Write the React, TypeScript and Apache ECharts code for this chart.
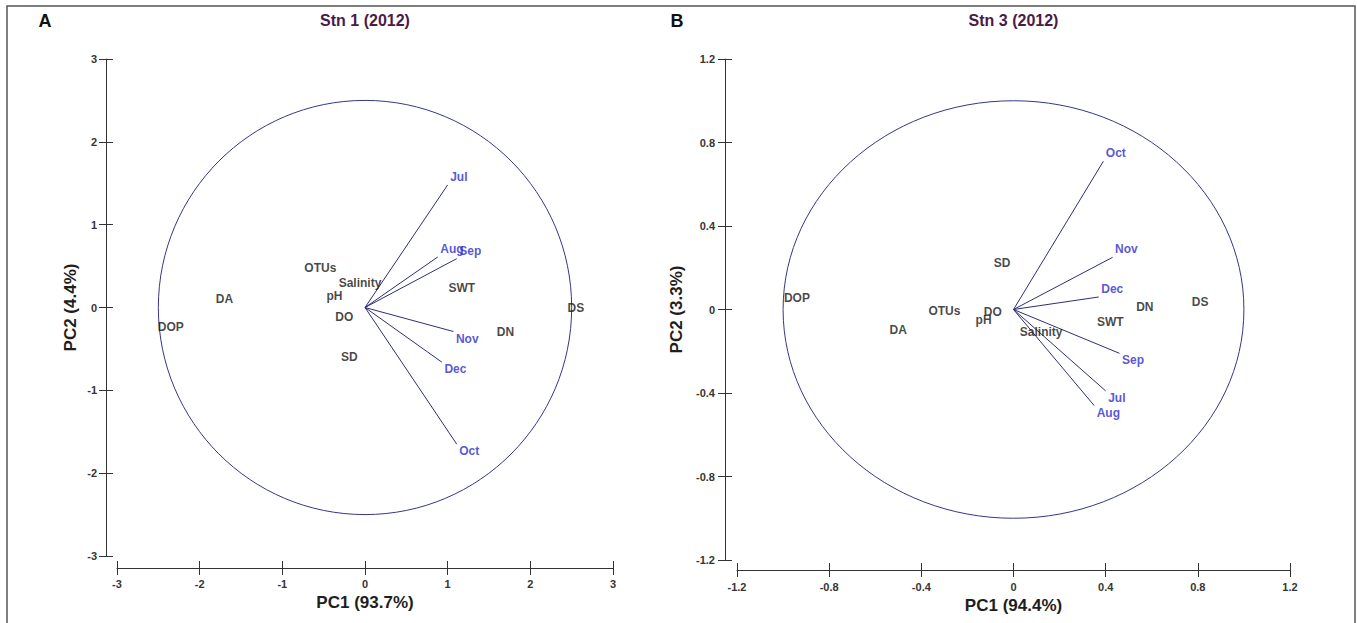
import React, { useEffect, useRef } from "react";
import * as echarts from "echarts";

// ---------- Panel A : Stn 1 (2012) ----------
const monthsA = ["Jul", "Aug", "Sep", "Nov", "Dec", "Oct"];
const monthXA = [1.0, 0.88, 1.11, 1.07, 0.93, 1.11];
const monthYA = [1.48, 0.61, 0.59, -0.29, -0.66, -1.65];
const varsA = ["OTUs", "Salinity", "pH", "DA", "DOP", "DO", "SD", "SWT", "DN", "DS"];
const varXA = [-0.54, -0.06, -0.37, -1.7, -2.35, -0.25, -0.19, 1.17, 1.7, 2.55];
const varYA = [0.48, 0.29, 0.14, 0.1, -0.24, -0.11, -0.6, 0.23, -0.29, 0.0];
const circleRA = 2.5;
const axisA = { min: -3, max: 3, interval: 1 };
const titleA = "Stn 1 (2012)";
const xNameA = "PC1 (93.7%)";
const yNameA = "PC2 (4.4%)";

// ---------- Panel B : Stn 3 (2012) ----------
const monthsB = ["Oct", "Nov", "Dec", "Sep", "Jul", "Aug"];
const monthXB = [0.39, 0.43, 0.37, 0.46, 0.4, 0.35];
const monthYB = [0.71, 0.25, 0.06, -0.21, -0.39, -0.46];
const varsB = ["SD", "DOP", "OTUs", "DO", "pH", "DA", "Salinity", "SWT", "DN", "DS"];
const varXB = [-0.05, -0.94, -0.3, -0.09, -0.13, -0.5, 0.12, 0.42, 0.57, 0.81];
const varYB = [0.225, 0.053, -0.005, -0.014, -0.048, -0.1, -0.11, -0.062, 0.014, 0.038];
const circleRB = 1;
const axisB = { min: -1.2, max: 1.2, interval: 0.4 };
const titleB = "Stn 3 (2012)";
const xNameB = "PC1 (94.4%)";
const yNameB = "PC2 (3.3%)";

const FONT = "'Liberation Sans', Arial, sans-serif";
const VEC_COLOR = "#2e2e78";
const MONTH_COLOR = "#2b2bcc";
const VAR_COLOR = "#161616";

function fmtTick(v: number, step: number) {
  if (Math.abs(v) < 1e-9) return "0";
  return step < 1 ? String(Math.round(v * 10) / 10) : String(Math.round(v));
}

function makeAxes(
  dim: "x" | "y",
  gridIndex: number,
  rng: { min: number; max: number; interval: number },
  name: string,
  offset: number,
  labelMargin: number,
  nameGap: number
) {
  const main: any = {
    type: "value",
    gridIndex,
    min: rng.min,
    max: rng.max,
    interval: rng.interval,
    position: dim === "x" ? "bottom" : "left",
    offset,
    name,
    nameLocation: "middle",
    nameGap,
    nameRotate: dim === "y" ? 90 : 0,
    nameTextStyle: { fontFamily: FONT, fontSize: 17, fontWeight: "bold", color: "#1e1e1e" },
    axisLine: { show: true, onZero: false, lineStyle: { color: "#333", width: 1 } },
    axisTick: { show: true, inside: false, length: 7, lineStyle: { color: "#333", width: 1 } },
    axisLabel: {
      show: true,
      margin: labelMargin,
      fontFamily: FONT,
      fontSize: 11,
      fontWeight: "bold",
      color: "#353535",
      formatter: (v: number) => fmtTick(v, rng.interval),
    },
    splitLine: { show: false },
  };
  const dup: any = {
    type: "value",
    gridIndex,
    min: rng.min,
    max: rng.max,
    interval: rng.interval,
    position: dim === "x" ? "bottom" : "left",
    offset,
    axisLine: { show: false, onZero: false },
    axisTick: { show: true, inside: true, length: 7, lineStyle: { color: "#333", width: 1 } },
    axisLabel: { show: false },
    splitLine: { show: false },
  };
  return [main, dup];
}

function panelSeries(
  axisIdx: number,
  months: string[],
  mx: number[],
  my: number[],
  vars: string[],
  vx: number[],
  vy: number[]
) {
  return [
    {
      type: "lines",
      coordinateSystem: "cartesian2d",
      xAxisIndex: axisIdx,
      yAxisIndex: axisIdx,
      silent: true,
      lineStyle: { color: VEC_COLOR, width: 1, opacity: 1 },
      data: months.map((m, i) => ({ name: m, coords: [[0, 0], [mx[i], my[i]]] })),
    },
    {
      type: "scatter",
      xAxisIndex: axisIdx,
      yAxisIndex: axisIdx,
      symbolSize: 1,
      itemStyle: { color: "rgba(0,0,0,0)" },
      data: months.map((m, i) => ({
        name: m,
        value: [mx[i], my[i]],
        label: {
          show: true,
          position: "right",
          distance: 2,
          offset: [0, my[i] > 0 ? -8 : 7],
          formatter: "{b}",
          fontFamily: FONT,
          fontSize: 12,
          fontWeight: "bold",
          color: MONTH_COLOR,
        },
      })),
    },
    {
      type: "scatter",
      xAxisIndex: axisIdx,
      yAxisIndex: axisIdx,
      symbolSize: 1,
      itemStyle: { color: "rgba(0,0,0,0)" },
      label: {
        show: true,
        position: "inside",
        formatter: "{b}",
        fontFamily: FONT,
        fontSize: 12,
        fontWeight: "bold",
        color: VAR_COLOR,
      },
      data: vars.map((v, i) => ({ name: v, value: [vx[i], vy[i]] })),
    },
  ];
}

export default function App() {
  const ref = useRef<HTMLDivElement>(null);

  useEffect(() => {
    if (!ref.current) return;
    const chart = echarts.init(ref.current, undefined, { renderer: "svg" });

    const xA = makeAxes("x", 0, axisA, xNameA, 12, 10, 25);
    const yA = makeAxes("y", 0, axisA, yNameA, 11, 9, 27);
    const xB = makeAxes("x", 1, axisB, xNameB, 10, 11, 26);
    const yB = makeAxes("y", 1, axisB, yNameB, 12, 10, 40);

    chart.setOption({
      animation: false,
      backgroundColor: "#ffffff",
      grid: [
        { left: 117, top: 59, width: 496, height: 497 },
        { left: 737, top: 59, width: 553, height: 501 },
      ],
      xAxis: [...xA, ...xB],
      yAxis: [...yA, ...yB],
      series: [
        ...panelSeries(0, monthsA, monthXA, monthYA, varsA, varXA, varYA),
        ...panelSeries(2, monthsB, monthXB, monthYB, varsB, varXB, varYB),
      ],
    });

    const cA = chart.convertToPixel({ xAxisIndex: 0, yAxisIndex: 0 }, [0, 0]) as number[];
    const eA = chart.convertToPixel({ xAxisIndex: 0, yAxisIndex: 0 }, [circleRA, circleRA]) as number[];
    const cB = chart.convertToPixel({ xAxisIndex: 2, yAxisIndex: 2 }, [0, 0]) as number[];
    const eB = chart.convertToPixel({ xAxisIndex: 2, yAxisIndex: 2 }, [circleRB, circleRB]) as number[];

    const titleStyle = { fontFamily: FONT, fontSize: 16, fontWeight: "bold", fill: "#4a1a48" };
    const letterStyle = { fontFamily: FONT, fontSize: 18, fontWeight: "bold", fill: "#111" };

    chart.setOption({
      graphic: [
        {
          type: "rect",
          silent: true,
          shape: { x: 7, y: 6, width: 1348, height: 640 },
          style: { fill: "none", stroke: "#555", lineWidth: 1.5 },
        },
        {
          type: "ellipse",
          silent: true,
          shape: { cx: cA[0], cy: cA[1], rx: eA[0] - cA[0], ry: cA[1] - eA[1] },
          style: { fill: "none", stroke: "#36368a", lineWidth: 1 },
        },
        {
          type: "ellipse",
          silent: true,
          shape: { cx: cB[0], cy: cB[1], rx: eB[0] - cB[0], ry: cB[1] - eB[1] },
          style: { fill: "none", stroke: "#36368a", lineWidth: 1 },
        },
        {
          type: "text",
          x: cA[0],
          y: 20,
          style: { ...titleStyle, text: titleA, textAlign: "center", textVerticalAlign: "middle" },
        },
        {
          type: "text",
          x: cB[0],
          y: 20,
          style: { ...titleStyle, text: titleB, textAlign: "center", textVerticalAlign: "middle" },
        },
        {
          type: "text",
          x: 45,
          y: 21,
          style: { ...letterStyle, text: "A", textAlign: "center", textVerticalAlign: "middle" },
        },
        {
          type: "text",
          x: 677,
          y: 21,
          style: { ...letterStyle, text: "B", textAlign: "center", textVerticalAlign: "middle" },
        },
      ],
    });

    return () => chart.dispose();
  }, []);

  return (
    <div
      ref={ref}
      style={{ position: "absolute", left: 0, top: 0, width: 1357, height: 623 }}
    />
  );
}
